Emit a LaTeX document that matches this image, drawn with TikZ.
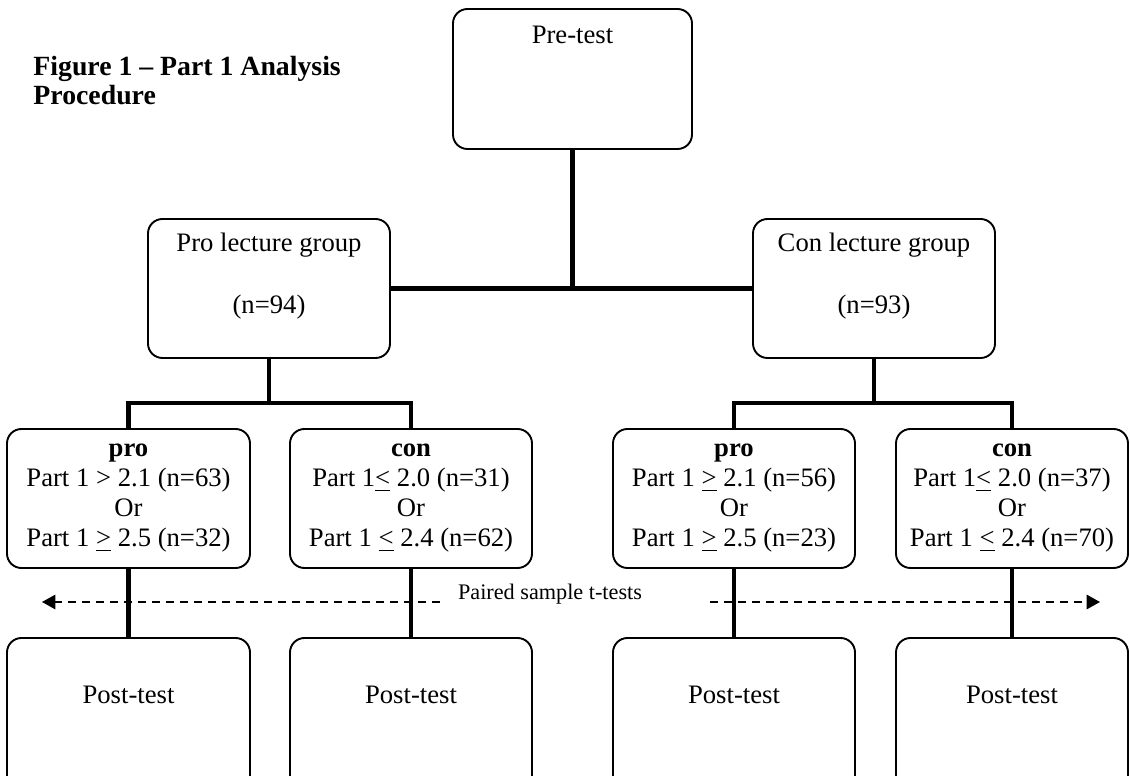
\documentclass[tikz,border=0pt]{standalone}
\usepackage{fontspec}
\setmainfont{Liberation Serif}
\usetikzlibrary{arrows.meta}
\begin{document}
\begin{tikzpicture}[x=0.45pt,y=-0.45pt,
  box/.style={draw,line width=0.85pt,rounded corners=6.5pt,inner sep=0pt},
  sz/.style 2 args={minimum width=#1*0.45pt,minimum height=#2*0.45pt},
  conn/.style={line width=2.1pt},
  txt/.style={font=\fontsize{12}{13.5}\selectfont,align=center,inner sep=0pt},
  paired/.style={dash pattern=on 3.6pt off 2.7pt,line width=0.7pt,-{Triangle[length=6pt,width=6.5pt]}}]
\useasboundingbox (0,0) rectangle (1130,776);
\clip (0,0) rectangle (1130,776);
% title
\node[anchor=north west,align=left,inner sep=0pt,font=\fontsize{12.5}{12.8}\selectfont\bfseries] (title) at (33,56) {Figure 1 – Part 1 Analysis\\Procedure};
% top level
\node[box,sz={239}{140}] (pre) at (572.5,79) {};
\node[txt] (pretxt) at (572.5,35) {Pre-test};
\node[box,sz={242}{139}] (pro) at (269,288.5) {};
\node[txt] (protxt) at (269,245) {Pro lecture group};
\node[txt] (pron) at (269,307) {(n=94)};
\node[box,sz={242}{139}] (con) at (874,288.5) {};
\node[txt] (contxt) at (874,245) {Con lecture group};
\node[txt] (conn) at (874,307) {(n=93)};
% level 3
\node[box,sz={243}{139},txt] (b1) at (128.5,498.5) {\textbf{pro}\\Part 1 > 2.1 (n=63)\\Or\\Part 1 \underline{>} 2.5 (n=32)};
\node[box,sz={242}{139},txt] (b2) at (411,498.5) {\textbf{con}\\Part 1\underline{<} 2.0 (n=31)\\Or\\Part 1 \underline{<} 2.4 (n=62)};
\node[box,sz={242}{139},txt] (b3) at (734,498.5) {\textbf{pro}\\Part 1 \underline{>} 2.1 (n=56)\\Or\\Part 1 \underline{>} 2.5 (n=23)};
\node[box,sz={232}{139},txt] (b4) at (1012,498.5) {\textbf{con}\\Part 1\underline{<} 2.0 (n=37)\\Or\\Part 1 \underline{<} 2.4 (n=70)};
% post tests
\node[box,sz={243}{162}] (p1) at (128.5,719) {};
\node[box,sz={242}{162}] (p2) at (411,719) {};
\node[box,sz={242}{162}] (p3) at (734,719) {};
\node[box,sz={232}{162}] (p4) at (1012,719) {};
\node[txt] (pt1) at (128.5,695) {Post-test};
\node[txt] (pt2) at (411,695) {Post-test};
\node[txt] (pt3) at (734,695) {Post-test};
\node[txt] (pt4) at (1012,695) {Post-test};
% connectors
\draw[conn] (pro.east) -- (con.west);
\draw[conn] (pre.south) -- (pre.south |- pro.east);
\coordinate (jp) at (269,403);
\coordinate (jc) at (874,403);
\draw[conn] (pro.south) -- (jp);
\draw[conn] (con.south) -- (jc);
\draw[conn] (b1.north) |- (jp) -| (b2.north);
\draw[conn] (b3.north) |- (jc) -| (b4.north);
\draw[conn] (b1.south) -- (p1.north);
\draw[conn] (b2.south) -- (p2.north);
\draw[conn] (b3.south) -- (p3.north);
\draw[conn] (b4.south) -- (p4.north);
% paired tests
\coordinate (la) at (440,602);
\coordinate (lb) at (42,602);
\coordinate (ra) at (710,602);
\coordinate (rb) at (1100,602);
\draw[paired] (la) -- (lb);
\draw[paired] (ra) -- (rb);
\node[inner sep=0pt,font=\fontsize{10}{12}\selectfont] (plabel) at (550,594) {Paired sample t-tests};
\end{tikzpicture}
\end{document}
